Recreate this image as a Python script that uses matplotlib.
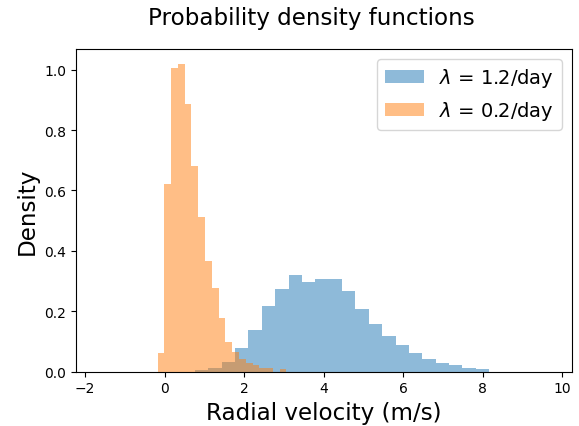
import matplotlib
matplotlib.use('Agg')
import matplotlib.pyplot as plt
import numpy as np

# lambda = 1.2/day : bin start, width, densities
blue_start = 0.758
blue_width = 0.3367
blue_dens = [0.006, 0.012, 0.033, 0.079, 0.136, 0.218, 0.275, 0.321, 0.298, 0.305,
             0.308, 0.268, 0.208, 0.159, 0.119, 0.089, 0.060, 0.040, 0.027, 0.023,
             0.013, 0.007]

# lambda = 0.2/day
orange_start = -0.18
orange_width = 0.1707
orange_dens = [0.063, 0.62, 1.007, 1.018, 0.887, 0.682, 0.513, 0.365, 0.276, 0.176,
               0.099, 0.066, 0.040, 0.029, 0.020, 0.013, 0.010, 0.0, 0.008]

labels = [r'$\lambda$ = 1.2/day', r'$\lambda$ = 0.2/day']

def edges(start, width, n):
    return start + width * np.arange(n + 1)

fig = plt.figure(figsize=(5.79, 4.27), dpi=100)
ax = fig.add_axes([0.1307, 0.1276, 0.8567, 0.7554])

be = edges(blue_start, blue_width, len(blue_dens))
oe = edges(orange_start, orange_width, len(orange_dens))
ax.hist(be[:-1], bins=be, weights=blue_dens, alpha=0.5, label=labels[0])
ax.hist(oe[:-1], bins=oe, weights=orange_dens, alpha=0.5, label=labels[1])

ax.set_xlim(-2.24, 10.24)
ax.set_xticks([-2, 0, 2, 4, 6, 8, 10])
ax.set_yticks([0.0, 0.2, 0.4, 0.6, 0.8, 1.0])
ax.set_xlabel('Radial velocity (m/s)', fontsize=16.6)
ax.set_ylabel('Density', fontsize=16.6)
ax.legend(fontsize=14, loc='upper right')
fig.text(0.538, 0.957, 'Probability density functions', fontsize=16.6,
         ha='center', va='center')

fig.savefig('out.png', dpi=100)
